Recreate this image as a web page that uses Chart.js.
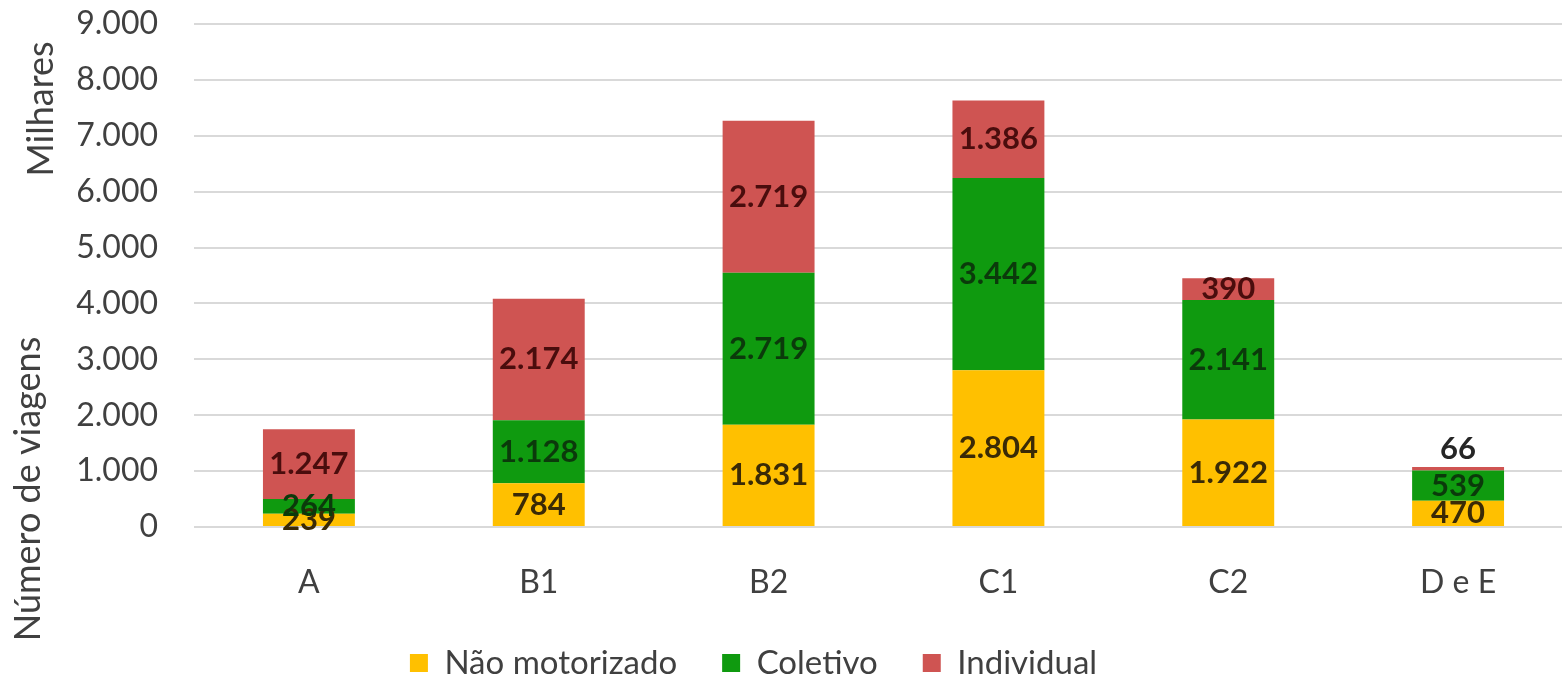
<!DOCTYPE html>
<html>
<head>
<meta charset="utf-8">
<script src="https://cdn.jsdelivr.net/npm/chart.js@4/dist/chart.umd.min.js"></script>
<style>
  html, body { margin: 0; padding: 0; background: #fff; overflow: hidden; }
  #wrap { width: 1646px; height: 680px; position: relative; margin-left: -66px; }
</style>
</head>
<body>
<div id="wrap"><canvas id="c"></canvas></div>
<script>
// Viagens por classe econômica (milhares)
const categories = ['A', 'B1', 'B2', 'C1', 'C2', 'D e E'];
const naoMotorizado = [239, 784, 1831, 2804, 1922, 470];
const coletivo = [264, 1128, 2719, 3442, 2141, 539];
const individual = [1247, 2174, 2719, 1386, 390, 66];
const yTicks = [0, 1000, 2000, 3000, 4000, 5000, 6000, 7000, 8000, 9000];

const FONT = 'Lato, "Open Sans", sans-serif';

function fmt(v) {
  return String(Math.round(v)).replace(/\B(?=(\d{3})+(?!\d))/g, '.');
}

// Value labels centred in each stacked segment; very thin segments get the label above the bar.
const segmentLabels = {
  id: 'segmentLabels',
  afterDatasetsDraw(chart) {
    const ctx = chart.ctx;
    ctx.save();
    ctx.font = 'bold 31px ' + FONT;
    ctx.textAlign = 'center';
    ctx.textBaseline = 'middle';
    chart.data.datasets.forEach((ds, di) => {
      const meta = chart.getDatasetMeta(di);
      meta.data.forEach((bar, i) => {
        const v = ds.data[i];
        const top = Math.min(bar.y, bar.base);
        const h = Math.abs(bar.base - bar.y);
        let y = (bar.y + bar.base) / 2;
        ctx.fillStyle = ds.labelColor;
        if (h < 8) {
          y = top - 18;
          ctx.fillStyle = '#262626';
        }
        ctx.fillText(fmt(v), bar.x, y);
      });
    });
    ctx.restore();
  }
};

// Keep the bottom legend compact vertically while its items stay widely spaced.
const compactLegend = {
  id: 'compactLegend',
  beforeLayout(chart) {
    const lg = chart.legend;
    if (lg && !lg._compact) {
      const fit = lg.fit.bind(lg);
      lg.fit = function () { fit(); this.height = 78.5; };
      lg._compact = true;
    }
  }
};

// Axis unit and title, both rotated along the left edge.
const axisTitles = {
  id: 'axisTitles',
  afterDraw(chart) {
    const ctx = chart.ctx;
    const a = chart.chartArea;
    const draw = (text, x, y) => {
      ctx.save();
      ctx.fillStyle = '#404040';
      ctx.font = '36px ' + FONT;
      ctx.textAlign = 'center';
      ctx.textBaseline = 'middle';
      ctx.translate(x, y);
      ctx.rotate(-Math.PI / 2);
      ctx.fillText(text, 0, 0);
      ctx.restore();
    };
    draw('Milhares', a.left - 153, a.top + 85);
    draw('Número de viagens', a.left - 166, a.bottom - 38);
  }
};

new Chart(document.getElementById('c'), {
  type: 'bar',
  data: {
    labels: categories,
    datasets: [
      { label: 'Não motorizado', data: naoMotorizado, backgroundColor: '#FFC000', labelColor: '#3a2a06' },
      { label: 'Coletivo', data: coletivo, backgroundColor: '#0F9A0F', labelColor: '#0b3a0b' },
      { label: 'Individual', data: individual, backgroundColor: '#CF5452', labelColor: '#4a0d0d' }
    ]
  },
  options: {
    responsive: true,
    maintainAspectRatio: false,
    animation: false,
    layout: { padding: { top: 24, left: 0, right: 7, bottom: 0 } },
    datasets: { bar: { barPercentage: 0.4, categoryPercentage: 1.0 } },
    plugins: {
      tooltip: { enabled: false },
      legend: {
        position: 'bottom',
        labels: {
          font: { family: FONT, size: 33 },
          color: '#404040',
          boxWidth: 18,
          boxHeight: 18,
          padding: 45
        }
      }
    },
    scales: {
      x: {
        stacked: true,
        grid: { display: false },
        border: { display: false },
        ticks: { font: { family: FONT, size: 32 }, color: '#404040', padding: 28 },
        afterFit(scale) { scale.height = 74.5; }
      },
      y: {
        stacked: true,
        min: 0,
        max: 9000,
        afterBuildTicks(scale) { scale.ticks = yTicks.map(v => ({ value: v })); },
        grid: { color: '#d9d9d9', lineWidth: 2, drawTicks: false },
        border: { display: false },
        ticks: {
          font: { family: FONT, size: 32 },
          color: '#404040',
          padding: 36,
          callback: v => fmt(v)
        },
        afterFit(scale) {
          scale.width = 260;
          scale.paddingTop = 0;
          scale.paddingBottom = 0;
        }
      }
    }
  },
  plugins: [segmentLabels, compactLegend, axisTitles]
});
</script>
</body>
</html>
